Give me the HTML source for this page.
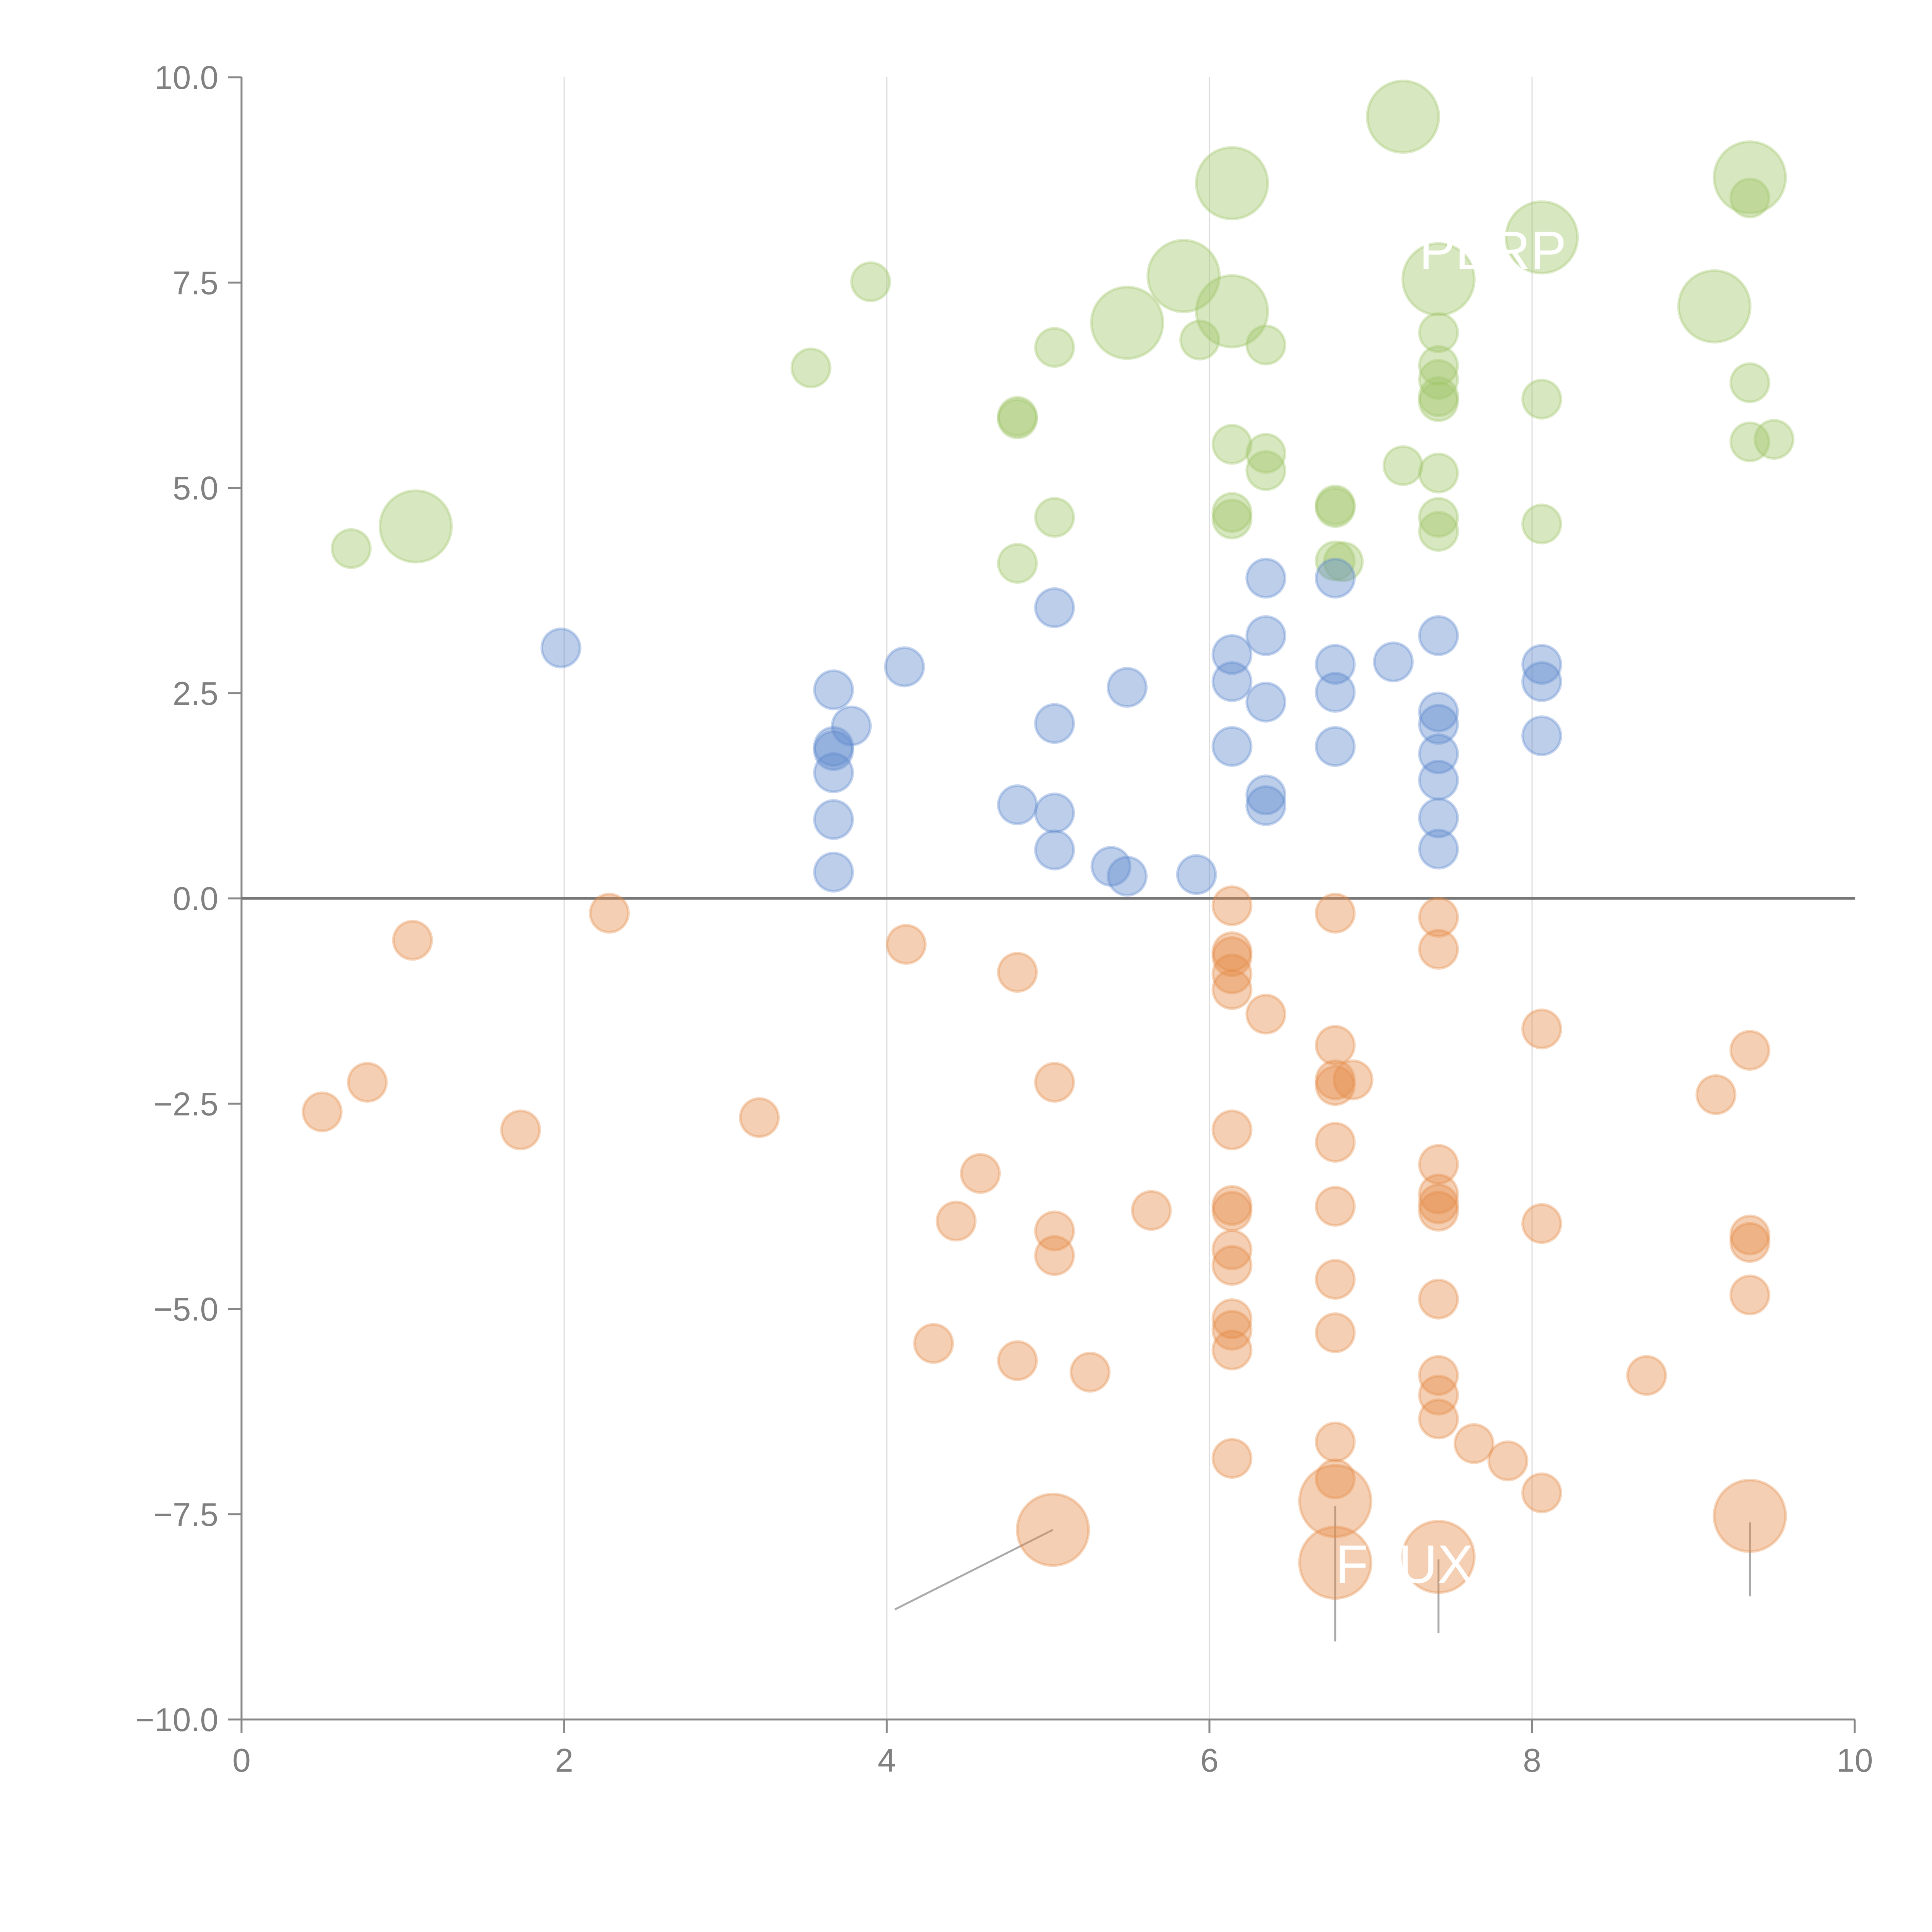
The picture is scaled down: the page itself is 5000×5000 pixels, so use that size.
<!DOCTYPE html>
<html><head><meta charset="utf-8"><style>
html,body{margin:0;padding:0;background:#fff;}
svg{display:block;}
text{font-family:"Liberation Sans",sans-serif;}
</style></head><body>
<svg id="chart" width="5000" height="5000" viewBox="0 0 5000 5000"></svg>
<script>
const xTicks=[0,2,4,6,8,10];
const yTicks=[-10,-7.5,-5,-2.5,0,2.5,5,7.5,10];
const greenX=[0.68,1.08,3.53,3.90,4.81,4.81,4.81,5.04,5.04,5.49,5.84,5.94,6.14,6.14,6.14,6.14,6.14,6.35,6.35,6.35,6.78,6.78,6.78,6.83,7.20,7.20,7.42,7.42,7.42,7.42,7.42,7.42,7.42,7.42,7.42,8.06,8.06,8.06,9.13,9.35,9.35,9.35,9.35,9.50];
const greenY=[4.26,4.53,6.46,7.51,5.87,5.84,4.08,6.71,4.64,7.01,7.58,6.80,8.71,7.15,5.53,4.70,4.62,6.74,5.42,5.21,4.79,4.76,4.11,4.10,9.52,5.27,7.54,6.89,6.49,6.32,6.11,6.05,5.18,4.64,4.47,8.05,6.08,4.56,7.21,8.78,8.53,6.28,5.56,5.59];
const greenS=[10,35,10,10,10,10,10,10,10,35,35,10,35,35,10,10,10,10,10,10,10,10,10,10,35,10,35,10,10,10,10,10,10,10,10,35,10,10,35,35,10,10,10,10];
const blueX=[1.98,3.67,3.67,3.67,3.67,3.67,3.67,3.78,4.11,4.81,5.04,5.04,5.04,5.04,5.39,5.49,5.49,5.92,6.14,6.14,6.14,6.35,6.35,6.35,6.35,6.35,6.78,6.78,6.78,6.78,7.14,7.42,7.42,7.42,7.42,7.42,7.42,7.42,8.06,8.06,8.06];
const blueY=[3.05,2.54,1.85,1.80,1.53,0.96,0.32,2.10,2.82,1.14,3.54,2.13,1.04,0.59,0.39,0.27,2.57,0.29,2.97,2.64,1.85,3.90,3.20,2.39,1.26,1.13,3.90,2.85,2.51,1.85,2.88,3.20,2.27,2.12,1.76,1.44,0.98,0.60,2.85,2.64,1.98];
const orangeX=[0.50,0.78,1.06,1.73,2.28,3.21,4.12,4.29,4.43,4.58,4.81,4.81,5.04,5.04,5.04,5.03,5.26,5.64,6.14,6.14,6.14,6.14,6.14,6.14,6.14,6.14,6.14,6.14,6.14,6.14,6.14,6.14,6.35,6.78,6.78,6.78,6.78,6.89,6.78,6.78,6.78,6.78,6.78,6.78,6.78,6.78,7.42,7.42,7.42,7.42,7.42,7.42,7.42,7.42,7.42,7.42,7.42,7.64,7.85,8.06,8.06,8.06,8.71,9.14,9.35,9.35,9.35,9.35,9.35];
const orangeY=[-2.60,-2.24,-0.51,-2.82,-0.18,-2.67,-0.56,-5.42,-3.93,-3.35,-0.90,-5.63,-2.24,-4.05,-4.35,-7.69,-5.77,-3.80,-0.09,-0.65,-0.71,-0.92,-1.11,-2.82,-3.74,-3.81,-4.28,-4.47,-5.12,-5.26,-5.50,-6.82,-1.41,-0.18,-1.79,-2.21,-2.28,-2.21,-2.97,-3.75,-4.64,-5.29,-6.62,-7.07,-7.34,-8.09,-0.23,-0.62,-3.24,-3.60,-3.72,-3.81,-4.88,-5.81,-6.05,-6.34,-8.02,-6.64,-6.85,-1.59,-3.96,-7.24,-5.81,-2.39,-1.85,-4.10,-4.19,-4.83,-7.52];
const orangeS=orangeY.map((v,i)=>[15,44,45,56,68].includes(i)?35:10);

const NS="http://www.w3.org/2000/svg";
const svg=document.getElementById('chart');
const X0=625,X1=4800,Y0=4450,Y1=200;
const sx=v=>X0+(v-0)/10*(X1-X0);
const sy=v=>Y0-(v+10)/20*(Y0-Y1);
const sr=s=>49.5*Math.sqrt(s/10);
function mk(tag,attrs,parent){const e=document.createElementNS(NS,tag);for(const k in attrs)e.setAttribute(k,attrs[k]);(parent||svg).appendChild(e);return e;}

const grid=mk('g',{});


xTicks.forEach(t=>{if(t>0&&t<10){const l=mk('line',{x1:sx(t),x2:sx(t),y1:Y1,y2:Y0,stroke:'#dcdcdc','stroke-width':3},grid);

}});

const ax=mk('g',{});


mk('line',{x1:X0,x2:X0,y1:Y1,y2:Y0+35,stroke:'#888','stroke-width':5},ax);
mk('line',{x1:X0-35,x2:X1,y1:Y0,y2:Y0,stroke:'#888','stroke-width':5},ax);
yTicks.forEach(t=>{mk('line',{x1:X0-35,x2:X0,y1:sy(t),y2:sy(t),stroke:'#888','stroke-width':5},ax);
const tx=mk('text',{x:X0-60,y:sy(t)+30,'text-anchor':'end','font-size':85,fill:'#808080'},ax);
tx.textContent=(t<0?'\u2212':'')+Math.abs(t).toFixed(1);

});
xTicks.forEach(t=>{mk('line',{x1:sx(t),x2:sx(t),y1:Y0,y2:Y0+35,stroke:'#888','stroke-width':5},ax);
const tx=mk('text',{x:sx(t),y:Y0+135,'text-anchor':'middle','font-size':85,fill:'#808080'},ax);
tx.textContent=String(t);

});

const zl=mk('line',{x1:X0,x2:X1,y1:sy(0),y2:sy(0),stroke:'#777','stroke-width':7});



const lead=[[5.03,-7.69,4.05,-8.66],[6.78,-7.4,6.78,-9.05],[7.42,-8.05,7.42,-8.95],[9.35,-7.6,9.35,-8.5]];
lead.forEach(p=>{const l=mk('line',{x1:sx(p[0]),y1:sy(p[1]),x2:sx(p[2]),y2:sy(p[3]),stroke:'#aaa','stroke-width':5});

});

function series(xs,ys,ss,col,name){
const g=mk('g',{});


xs.forEach((x,i)=>{const c=mk('circle',{cx:sx(x),cy:sy(ys[i]),r:sr(ss[i]),fill:col,'fill-opacity':0.42,stroke:col,'stroke-opacity':0.35,'stroke-width':7},g);

});}
series(greenX,greenY,greenS,'rgb(160,198,105)','green');
series(blueX,blueY,blueX.map(()=>10),'rgb(95,138,205)','blue');
series(orangeX,orangeY,orangeS,'rgb(228,140,75)','orange');

const l1=mk('text',{x:sx(7.3),y:sy(7.9)+50,'font-size':140,fill:'#fff'});
l1.textContent='PERP';


const l2=mk('text',{x:sx(6.78),y:sy(-8.1)+50,'font-size':140,fill:'#fff'});
l2.textContent='FLUX';


</script>
</body></html>
